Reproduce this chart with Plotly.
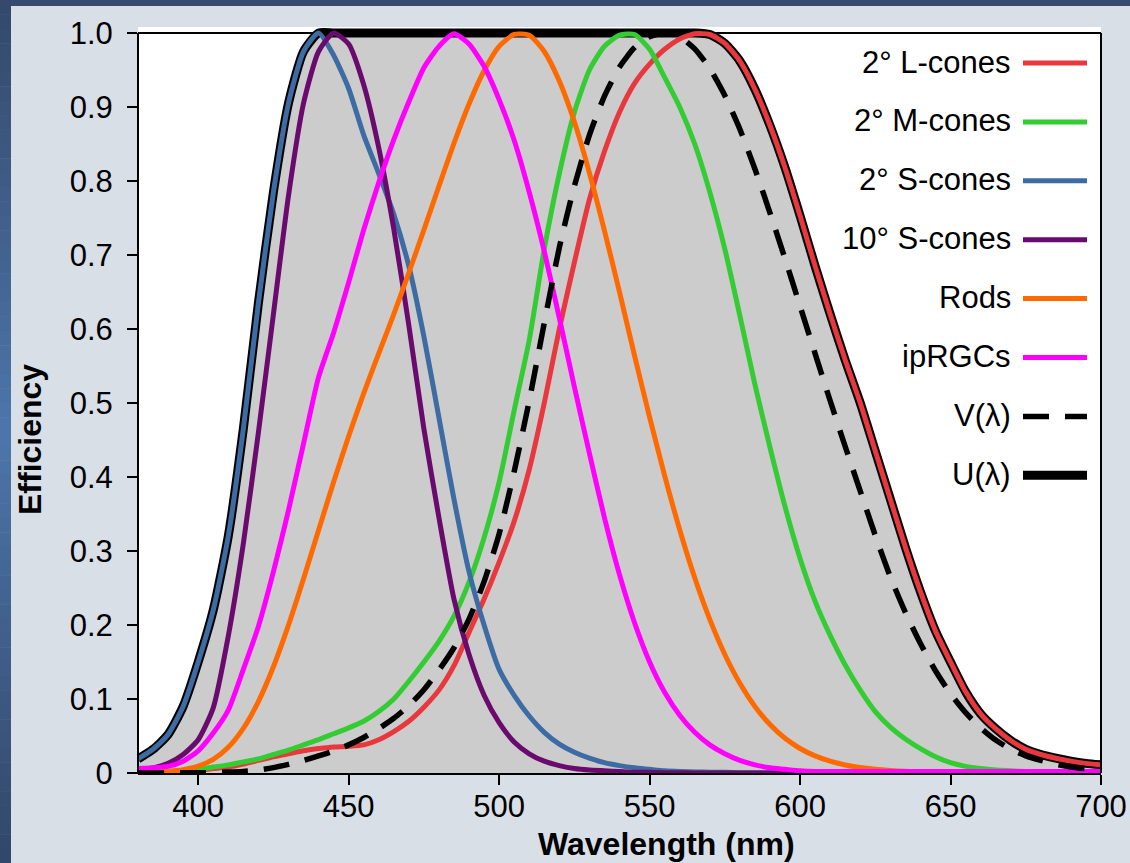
import plotly.graph_objects as go

# Wavelength grid (nm)
WAVELENGTH_NM = list(range(380, 701, 5))

# 2° L-cone fundamental
L_CONES_2DEG = [
    0.000, 0.001, 0.002, 0.003, 0.004, 0.006, 0.008, 0.012, 0.017, 0.022,
    0.026, 0.030, 0.033, 0.035, 0.036, 0.038, 0.045, 0.056, 0.070, 0.089,
    0.112, 0.145, 0.190, 0.235, 0.285, 0.340, 0.410, 0.500, 0.600, 0.690,
    0.775, 0.840, 0.893, 0.932, 0.958, 0.978, 0.992, 0.999, 0.998, 0.986,
    0.962, 0.924, 0.875, 0.818, 0.753, 0.685, 0.620, 0.558, 0.500, 0.435,
    0.370, 0.305, 0.245, 0.192, 0.150, 0.110, 0.080, 0.060, 0.044, 0.032,
    0.025, 0.020, 0.016, 0.013, 0.011,
]

# 2° M-cone fundamental
M_CONES_2DEG = [
    0.000, 0.001, 0.002, 0.003, 0.005, 0.008, 0.011, 0.015, 0.019, 0.025,
    0.031, 0.038, 0.045, 0.053, 0.061, 0.070, 0.083, 0.100, 0.124, 0.150,
    0.178, 0.212, 0.258, 0.318, 0.393, 0.490, 0.585, 0.708, 0.810, 0.893,
    0.950, 0.982, 0.997, 0.998, 0.978, 0.940, 0.900, 0.850, 0.785, 0.708,
    0.618, 0.525, 0.440, 0.360, 0.290, 0.232, 0.186, 0.146, 0.112, 0.083,
    0.062, 0.046, 0.033, 0.022, 0.014, 0.009, 0.006, 0.004, 0.003, 0.002,
    0.0015, 0.001, 0.001, 0.0005, 0.0005,
]

# 2° S-cone fundamental
S_CONES_2DEG = [
    0.019, 0.032, 0.052, 0.090, 0.150, 0.220, 0.320, 0.465, 0.635, 0.785,
    0.905, 0.975, 1.000, 0.970, 0.925, 0.862, 0.810, 0.755, 0.685, 0.590,
    0.480, 0.370, 0.272, 0.200, 0.140, 0.105, 0.077, 0.055, 0.039, 0.028,
    0.020, 0.014, 0.010, 0.007, 0.005, 0.003, 0.002, 0.0015, 0.001, 0.001,
    0.0005, 0.0005, 0.0003, 0.0002, 0.0001, 0.0, 0.0, 0.0, 0.0, 0.0,
    0.0, 0.0, 0.0, 0.0, 0.0, 0.0, 0.0, 0.0, 0.0, 0.0,
    0.0, 0.0, 0.0, 0.0, 0.0,
]

# 10° S-cone fundamental
S_CONES_10DEG = [
    0.004, 0.007, 0.013, 0.025, 0.045, 0.088, 0.185, 0.310, 0.460, 0.620,
    0.780, 0.905, 0.975, 1.000, 0.985, 0.930, 0.845, 0.735, 0.605, 0.465,
    0.345, 0.235, 0.160, 0.105, 0.068, 0.042, 0.026, 0.016, 0.010, 0.006,
    0.004, 0.003, 0.002, 0.001, 0.001, 0.0005, 0.0005, 0.0, 0.0, 0.0,
    0.0, 0.0, 0.0, 0.0, 0.0, 0.0, 0.0, 0.0, 0.0, 0.0,
    0.0, 0.0, 0.0, 0.0, 0.0, 0.0, 0.0, 0.0, 0.0, 0.0,
    0.0, 0.0, 0.0, 0.0, 0.0,
]

# Rods (scotopic V'(λ))
RODS = [
    0.000589, 0.001108, 0.002209, 0.004530, 0.00929, 0.01852, 0.03484, 0.0604, 0.0966, 0.1436,
    0.1998, 0.2625, 0.3281, 0.3931, 0.455, 0.513, 0.567, 0.620, 0.676, 0.734,
    0.793, 0.851, 0.904, 0.949, 0.982, 0.998, 0.997, 0.975, 0.935, 0.880,
    0.811, 0.733, 0.650, 0.564, 0.481, 0.402, 0.3288, 0.2639, 0.2076, 0.1602,
    0.1212, 0.0899, 0.0655, 0.0469, 0.03315, 0.02312, 0.01593, 0.01088, 0.00737, 0.00497,
    0.003335, 0.002235, 0.001497, 0.001005, 0.000677, 0.000459, 0.000313, 0.000215, 0.000148, 0.000103,
    0.0000715, 0.0000500, 0.0000353, 0.0000250, 0.0000178,
]

# ipRGCs (melanopsin)
IPRGCS = [
    0.006, 0.007, 0.009, 0.016, 0.030, 0.054, 0.085, 0.140, 0.198, 0.272,
    0.355, 0.445, 0.535, 0.595, 0.663, 0.734, 0.798, 0.856, 0.907, 0.953,
    0.982, 0.999, 0.985, 0.955, 0.910, 0.855, 0.785, 0.705, 0.615, 0.522,
    0.432, 0.345, 0.268, 0.203, 0.150, 0.109, 0.078, 0.055, 0.038, 0.026,
    0.017, 0.011, 0.007, 0.005, 0.003, 0.002, 0.002, 0.002, 0.002, 0.002,
    0.002, 0.002, 0.002, 0.002, 0.002, 0.002, 0.002, 0.002, 0.002, 0.002,
    0.002, 0.002, 0.002, 0.002, 0.002,
]

# Photopic luminous efficiency V(λ)
V_LAMBDA = [
    0.000039, 0.000064, 0.00012, 0.000217, 0.000396, 0.00064, 0.00121, 0.00218, 0.004, 0.0073,
    0.0116, 0.01684, 0.023, 0.0298, 0.038, 0.048, 0.060, 0.0739, 0.09098, 0.1126,
    0.13902, 0.1693, 0.20802, 0.2586, 0.323, 0.4073, 0.503, 0.6082, 0.710, 0.7932,
    0.862, 0.91485, 0.954, 0.9803, 0.99495, 1.000, 0.995, 0.9786, 0.952, 0.9154,
    0.870, 0.8163, 0.757, 0.6949, 0.631, 0.5668, 0.503, 0.4412, 0.381, 0.321,
    0.265, 0.217, 0.175, 0.1382, 0.107, 0.0816, 0.061, 0.04458, 0.032, 0.0232,
    0.017, 0.01192, 0.00821, 0.005723, 0.004102,
]

# Upper envelope U(λ)
U_LAMBDA = [
    0.019, 0.032, 0.052, 0.090, 0.150, 0.220, 0.320, 0.465, 0.635, 0.785,
    0.905, 0.975, 1.000, 1.000, 1.000, 1.000, 1.000, 1.000, 1.000, 1.000,
    1.000, 1.000, 1.000, 1.000, 1.000, 1.000, 1.000, 1.000, 1.000, 1.000,
    1.000, 1.000, 1.000, 1.000, 1.000, 1.000, 1.000, 1.000, 0.998, 0.986,
    0.962, 0.924, 0.875, 0.818, 0.753, 0.685, 0.620, 0.558, 0.500, 0.435,
    0.370, 0.305, 0.245, 0.192, 0.150, 0.110, 0.080, 0.060, 0.044, 0.032,
    0.025, 0.020, 0.016, 0.013, 0.011,
]

X_TICKS = [400, 450, 500, 550, 600, 650, 700]
Y_TICKS = [0, 0.1, 0.2, 0.3, 0.4, 0.5, 0.6, 0.7, 0.8, 0.9, 1.0]
Y_TICK_TEXT = ["0", "0.1", "0.2", "0.3", "0.4", "0.5", "0.6", "0.7", "0.8", "0.9", "1.0"]

SERIES = [
    ("2° L-cones", L_CONES_2DEG, "#e8383d", "solid"),
    ("2° M-cones", M_CONES_2DEG, "#33cc33", "solid"),
    ("2° S-cones", S_CONES_2DEG, "#3c6ca3", "solid"),
    ("10° S-cones", S_CONES_10DEG, "#6a0a6e", "solid"),
    ("Rods", RODS, "#ff6a00", "solid"),
    ("ipRGCs", IPRGCS, "#ff00ff", "solid"),
]

FONT = "Liberation Sans, Arial, Helvetica, sans-serif"
W, H = 1130, 863
PX_L, PX_R, PX_T, PX_B = 138, 1101, 33, 773   # pixel frame of the axes box
TOP_PAD = 6                                    # room above 1.0 for the thick envelope line
Y_MAX = 1.0 + TOP_PAD / (PX_B - PX_T)


def px(xp):
    return (xp - PX_L) / (PX_R - PX_L)


def py(yp):
    return (PX_B - yp) / (PX_B - PX_T + TOP_PAD)


fig = go.Figure()

# Grey area under the envelope, with its thick black outline
fig.add_trace(go.Scatter(
    x=WAVELENGTH_NM, y=U_LAMBDA, mode="lines",
    line=dict(color="black", width=9, shape="spline", smoothing=0.6),
    fill="tozeroy", fillcolor="#cccccc", showlegend=False, hoverinfo="skip",
))

for name, values, color, dash in SERIES:
    fig.add_trace(go.Scatter(
        x=WAVELENGTH_NM, y=values, mode="lines", name=name,
        line=dict(color=color, width=5, shape="spline", smoothing=0.6),
        showlegend=False,
    ))

fig.add_trace(go.Scatter(
    x=WAVELENGTH_NM, y=V_LAMBDA, mode="lines", name="V(λ)",
    line=dict(color="black", width=5.5, dash="26px,16px", shape="spline", smoothing=0.6),
    showlegend=False,
))

shapes = []
annotations = []

# Window background: dark top bar and a vertical gradient strip on the left
shapes.append(dict(type="rect", xref="paper", yref="paper", layer="below",
                   x0=px(0), x1=px(W), y0=py(0), y1=py(6),
                   fillcolor="#364b6d", line=dict(width=0)))
top_rgb, mid_rgb, bot_rgb = (52, 72, 106), (77, 118, 170), (50, 70, 104)
n_bands = 60
for i in range(n_bands):
    y0 = H * i / n_bands
    y1 = H * (i + 1) / n_bands
    t = (y0 + y1) / 2 / H
    if t < 0.5:
        f = t / 0.5
        rgb = [a + (b - a) * f for a, b in zip(top_rgb, mid_rgb)]
    else:
        f = (t - 0.5) / 0.5
        rgb = [a + (b - a) * f for a, b in zip(mid_rgb, bot_rgb)]
    shapes.append(dict(type="rect", xref="paper", yref="paper", layer="below",
                       x0=px(0), x1=px(11), y0=py(y1 + 0.5), y1=py(y0),
                       fillcolor="rgb(%d,%d,%d)" % tuple(int(round(c)) for c in rgb),
                       line=dict(width=0)))

# Frame of the axes box
shapes.append(dict(type="line", xref="paper", yref="paper", layer="below",
                   x0=px(PX_L), x1=px(PX_R), y0=py(PX_T), y1=py(PX_T),
                   line=dict(color="black", width=2)))
shapes.append(dict(type="line", xref="paper", yref="paper", layer="above",
                   x0=px(PX_R), x1=px(PX_R), y0=py(PX_T), y1=py(PX_B),
                   line=dict(color="black", width=2)))
shapes.append(dict(type="line", xref="paper", yref="paper", layer="above",
                   x0=px(PX_L), x1=px(PX_L), y0=py(PX_T), y1=py(PX_B + 1),
                   line=dict(color="black", width=2)))

# Legend: right-aligned labels followed by line samples
legend_rows = [(n, c, d, 5) for n, _, c, d in SERIES]
legend_rows += [("V(λ)", "black", "26px,16px", 5.5), ("U(λ)", "black", "solid", 9)]
row_y0, row_step = 62, 58.9
for i, (label, color, dash, width) in enumerate(legend_rows):
    yp = row_y0 + i * row_step
    annotations.append(dict(
        xref="paper", yref="paper", x=px(1013), y=py(yp),
        xanchor="right", yanchor="middle", showarrow=False, text=label,
        font=dict(family=FONT, size=31, color="black"),
    ))
    shapes.append(dict(type="line", xref="paper", yref="paper", layer="above",
                       x0=px(1023), x1=px(1087), y0=py(yp + 1), y1=py(yp + 1),
                       line=dict(color=color, width=width, dash=dash)))

# Axis titles
annotations.append(dict(
    xref="paper", yref="paper", x=px(666), y=py(844), xanchor="center", yanchor="middle",
    showarrow=False, text="<b>Wavelength (nm)</b>",
    font=dict(family=FONT, size=32, color="black"),
))
annotations.append(dict(
    xref="paper", yref="paper", x=px(30), y=py(440), xanchor="center", yanchor="middle",
    showarrow=False, text="<b>Efficiency</b>", textangle=-90,
    font=dict(family=FONT, size=32, color="black"),
))

fig.update_layout(
    width=W, height=H,
    margin=dict(l=PX_L, r=W - PX_R, t=PX_T - TOP_PAD, b=H - PX_B, pad=0),
    paper_bgcolor="#d9dfe7", plot_bgcolor="white",
    font=dict(family=FONT, color="black"),
    showlegend=False,
    shapes=shapes, annotations=annotations,
    xaxis=dict(
        range=[380, 700], tickvals=X_TICKS, ticks="outside", ticklen=10, tickwidth=2,
        tickcolor="black", showline=True, linecolor="black", linewidth=2,
        showgrid=False, zeroline=False, tickfont=dict(family=FONT, size=31, color="black"),
        ticklabelstandoff=-5, automargin=False,
    ),
    yaxis=dict(
        range=[0, Y_MAX], tickvals=Y_TICKS, ticktext=Y_TICK_TEXT, ticks="outside",
        ticklen=10, tickwidth=2, tickcolor="black", showline=False,
        showgrid=False, zeroline=False, tickfont=dict(family=FONT, size=31, color="black"),
        ticklabelstandoff=8, automargin=False,
    ),
)

fig.write_html("out.html")
